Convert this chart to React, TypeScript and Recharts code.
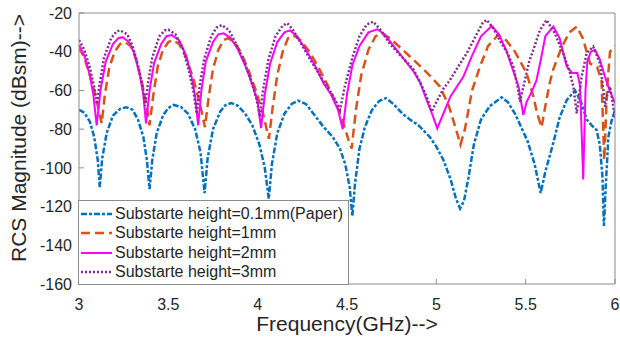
import { LineChart, Line, XAxis, YAxis, Legend } from 'recharts';

// frequency (GHz), RCS (dBsm)
const paper: [number, number][] = [
  [3.0, -70], [3.03, -71.5], [3.06, -76], [3.085, -84], [3.105, -96], [3.116, -110], [3.13, -95], [3.155, -82],
  [3.19, -73], [3.23, -69.5], [3.265, -68.7], [3.3, -70], [3.33, -75], [3.36, -84], [3.38, -96], [3.395, -111],
  [3.41, -96], [3.435, -82], [3.47, -73], [3.5, -69], [3.53, -67.5], [3.57, -68.5], [3.61, -72], [3.65, -80],
  [3.68, -92], [3.703, -113], [3.72, -95], [3.75, -80], [3.79, -71], [3.82, -67.5], [3.852, -66.5], [3.89, -68],
  [3.93, -72], [3.97, -78], [4.01, -88], [4.04, -100], [4.062, -116], [4.08, -98], [4.11, -82], [4.15, -72],
  [4.19, -67], [4.226, -65.3], [4.27, -67], [4.32, -73], [4.37, -79], [4.42, -84], [4.46, -90], [4.49, -98],
  [4.515, -110], [4.53, -125], [4.545, -108], [4.57, -90], [4.6, -79], [4.64, -70], [4.68, -65.5], [4.718, -64],
  [4.76, -67], [4.81, -72], [4.852, -75], [4.9, -78], [4.963, -84], [5.0, -89], [5.04, -96], [5.08, -106],
  [5.11, -116], [5.133, -121], [5.155, -117], [5.18, -105], [5.21, -88], [5.25, -75], [5.3, -68], [5.365, -63.6],
  [5.4, -66], [5.44, -72], [5.47, -78], [5.51, -86], [5.55, -98], [5.584, -113], [5.61, -102], [5.655, -87],
  [5.69, -74], [5.73, -65], [5.776, -60], [5.81, -66], [5.841, -75], [5.87, -78], [5.897, -80.5], [5.915, -88],
  [5.93, -105], [5.938, -130], [5.948, -110], [5.963, -84], [5.98, -76], [6.0, -70],
];

const h1mm: [number, number][] = [
  [3.0, -38], [3.03, -43], [3.06, -52], [3.09, -62], [3.11, -70], [3.127, -77], [3.145, -62], [3.17, -48],
  [3.2, -40], [3.23, -36], [3.257, -35], [3.29, -37], [3.32, -44], [3.35, -55], [3.375, -66], [3.395, -78],
  [3.415, -63], [3.44, -48], [3.47, -39], [3.5, -35], [3.525, -34], [3.56, -36], [3.6, -43], [3.64, -54],
  [3.68, -68], [3.705, -79], [3.725, -64], [3.75, -49], [3.78, -39], [3.81, -34], [3.835, -33], [3.87, -35],
  [3.91, -41], [3.95, -50], [3.99, -60], [4.03, -72], [4.063, -85], [4.085, -68], [4.11, -52], [4.14, -40],
  [4.17, -33], [4.2, -31.5], [4.24, -34], [4.29, -40], [4.34, -48], [4.39, -57], [4.44, -67], [4.48, -77],
  [4.51, -86], [4.526, -90], [4.55, -70], [4.58, -52], [4.62, -39], [4.66, -32], [4.694, -30.5], [4.74, -33],
  [4.8, -38], [4.87, -44], [4.95, -51], [5.02, -58], [5.07, -68], [5.11, -80], [5.135, -88], [5.16, -80],
  [5.2, -60], [5.244, -47.7], [5.29, -37], [5.345, -31.5], [5.39, -34], [5.44, -40], [5.505, -51], [5.54, -62],
  [5.565, -72], [5.589, -79], [5.61, -68], [5.635, -56], [5.655, -49], [5.7, -38], [5.745, -30], [5.786, -27],
  [5.82, -33], [5.86, -46], [5.9, -48], [5.925, -55], [5.94, -96], [5.955, -60], [5.972, -40], [6.0, -37],
];

const h2mm: [number, number][] = [
  [3.0, -36.5], [3.03, -42], [3.06, -52], [3.08, -62], [3.099, -78], [3.12, -60], [3.15, -45], [3.19, -36],
  [3.22, -33], [3.244, -32.5], [3.28, -35], [3.31, -41], [3.34, -52], [3.36, -62], [3.375, -77], [3.395, -60],
  [3.42, -46], [3.46, -36], [3.49, -32], [3.519, -31.4], [3.56, -34], [3.6, -42], [3.63, -53], [3.65, -63],
  [3.667, -78], [3.685, -60], [3.71, -45], [3.75, -35], [3.78, -31], [3.81, -30.5], [3.85, -33], [3.89, -39],
  [3.93, -47], [3.97, -57], [4.0, -66], [4.019, -79.5], [4.04, -62], [4.07, -46], [4.11, -35], [4.15, -30],
  [4.181, -29], [4.22, -32], [4.27, -39], [4.32, -47], [4.367, -56], [4.41, -62], [4.45, -70], [4.476, -80],
  [4.5, -62], [4.53, -47], [4.57, -37], [4.62, -30], [4.67, -28.4], [4.71, -31], [4.76, -37], [4.82, -44],
  [4.871, -50], [4.91, -56], [4.945, -64.8], [4.98, -73], [5.005, -79.6], [5.03, -74], [5.08, -63], [5.151, -53],
  [5.2, -42], [5.25, -32], [5.31, -26.7], [5.35, -31], [5.39, -39], [5.431, -50], [5.46, -58], [5.487, -72.7],
  [5.505, -66], [5.534, -60.6], [5.56, -55], [5.585, -44], [5.61, -32], [5.655, -27], [5.69, -33], [5.73, -47.7],
  [5.76, -51], [5.79, -51], [5.805, -58], [5.822, -106], [5.835, -60], [5.845, -45], [5.865, -40], [5.888, -39],
  [5.915, -44], [5.944, -53], [5.97, -60], [6.0, -66.6],
];

const h3mm: [number, number][] = [
  [3.0, -34], [3.03, -39], [3.06, -48], [3.085, -58], [3.1, -67], [3.115, -57], [3.14, -43], [3.18, -33],
  [3.21, -29.5], [3.23, -29], [3.27, -31], [3.3, -37], [3.33, -47], [3.355, -57], [3.37, -68], [3.385, -57],
  [3.41, -43], [3.45, -32], [3.48, -29], [3.5, -28.6], [3.54, -31], [3.58, -38], [3.61, -48], [3.64, -60],
  [3.659, -72], [3.675, -58], [3.7, -44], [3.74, -32], [3.77, -27.5], [3.8, -26.2], [3.84, -29], [3.88, -36],
  [3.92, -44], [3.96, -54], [3.99, -63], [4.013, -73.6], [4.03, -60], [4.06, -44], [4.1, -32], [4.14, -26.5],
  [4.166, -25.3], [4.2, -29], [4.25, -37], [4.3, -45], [4.367, -55], [4.41, -61], [4.44, -66], [4.461, -70],
  [4.49, -57], [4.53, -43], [4.57, -32], [4.61, -26], [4.647, -24.5], [4.69, -29], [4.74, -36], [4.8, -42],
  [4.871, -49], [4.91, -56], [4.945, -63], [4.974, -71], [5.0, -66], [5.04, -59], [5.077, -54.6], [5.12, -48],
  [5.17, -40.8], [5.22, -32], [5.26, -25], [5.282, -23.6], [5.32, -28], [5.36, -35], [5.4, -41], [5.431, -47.7],
  [5.455, -58], [5.468, -65.8], [5.49, -57], [5.52, -45], [5.543, -39], [5.58, -28.8], [5.617, -23.6], [5.66, -30],
  [5.71, -40.8], [5.745, -50], [5.767, -58], [5.786, -71.8], [5.8, -62], [5.813, -53], [5.841, -40.8], [5.878, -37.4],
  [5.916, -46], [5.935, -60], [5.944, -68.4], [5.958, -62], [5.972, -58], [5.99, -68], [6.0, -75],
];

const xTicks = [3, 3.5, 4, 4.5, 5, 5.5, 6];
const yTicks = [-160, -140, -120, -100, -80, -60, -40, -20];

const FONT = '"Liberation Sans", Arial, Helvetica, sans-serif';
const AXIS = '#8c8c8c';
const TEXT = '#262626';

const series = [
  { name: 'Substarte height=0.1mm(Paper)', pts: paper, color: '#0072BD', dash: '6 2 3 2', width: 2.5 },
  { name: 'Substarte height=1mm', pts: h1mm, color: '#D95319', dash: '9 5', width: 2.5 },
  { name: 'Substarte height=2mm', pts: h2mm, color: '#FF00FF', dash: undefined, width: 2 },
  { name: 'Substarte height=3mm', pts: h3mm, color: '#7E2F8E', dash: '2 2', width: 2.5 },
];

const toRows = (pts: [number, number][]) => pts.map(([f, v]) => ({ f, v }));

function LegendBox() {
  return (
    <div
      style={{
        width: 269,
        height: 80,
        border: '1px solid #8c8c8c',
        background: '#fff',
        paddingTop: 3,
        boxSizing: 'content-box',
        fontFamily: FONT,
        fontSize: 16,
        color: TEXT,
      }}
    >
      {series.map((s) => (
        <div key={s.name} style={{ height: 19.5, display: 'flex', alignItems: 'center' }}>
          <svg width={36} height={10} style={{ flex: 'none' }}>
            <line x1={2} x2={33} y1={5} y2={5} stroke={s.color} strokeWidth={s.width} strokeDasharray={s.dash} />
          </svg>
          <span style={{ whiteSpace: 'nowrap' }}>{s.name}</span>
        </div>
      ))}
    </div>
  );
}

export default function App() {
  return (
    <div style={{ position: 'absolute', left: 0, top: 0, background: '#fff' }}>
      <LineChart width={620} height={340} margin={{ top: 12, right: 4, bottom: 0, left: 0 }} style={{ fontFamily: FONT }}>
        <XAxis
          dataKey="f"
          type="number"
          domain={[3, 6]}
          ticks={xTicks}
          allowDataOverflow
          height={56}
          stroke={AXIS}
          tickSize={-5}
          tickMargin={20}
          tick={{ fill: TEXT, fontSize: 16 }}
          label={{ value: 'Frequency(GHz)-->', position: 'insideBottom', offset: 9, fill: TEXT, fontSize: 21 }}
        />
        <XAxis xAxisId="top" orientation="top" dataKey="f" type="number" domain={[3, 6]} ticks={xTicks} height={1} stroke={AXIS} tickSize={-5} tick={false} />
        <YAxis
          type="number"
          domain={[-160, -20]}
          ticks={yTicks}
          allowDataOverflow
          width={79}
          stroke={AXIS}
          tickSize={-5}
          tickMargin={12}
          tick={{ fill: TEXT, fontSize: 16 }}
          label={() => (
            <text
              x={18}
              y={138}
              transform="rotate(-90 18 138)"
              textAnchor="middle"
              dominantBaseline="central"
              fill={TEXT}
              fontSize={21}
              fontFamily={FONT}
            >
              RCS Magnitude (dBsm)--&gt;
            </text>
          )}
        />
        <YAxis yAxisId="right" orientation="right" type="number" domain={[-160, -20]} ticks={yTicks} width={1} stroke={AXIS} tickSize={-5} tick={false} />
        {series.map((s) => (
          <Line
            key={s.name}
            data={toRows(s.pts)}
            dataKey="v"
            name={s.name}
            type="linear"
            stroke={s.color}
            strokeWidth={s.width}
            strokeDasharray={s.dash}
            dot={false}
            activeDot={false}
            isAnimationActive={false}
          />
        ))}
        <Legend
          layout="vertical"
          align="center"
          verticalAlign="middle"
          wrapperStyle={{ left: 78, top: 200, width: 'auto' }}
          content={() => <LegendBox />}
        />
      </LineChart>
    </div>
  );
}
